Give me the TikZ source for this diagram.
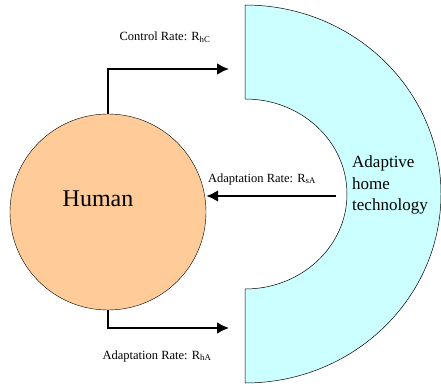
\documentclass[tikz,border=0pt]{standalone}
\usepackage{fontspec}
\setmainfont{Liberation Serif}
\usetikzlibrary{positioning,arrows.meta}
\definecolor{peach}{RGB}{255,204,153}
\definecolor{paleblue}{RGB}{204,255,255}
\tikzset{
	rate/.style={font=\fontsize{12.5}{14}\selectfont, inner sep=0pt},
	flow/.style={-{Latex[length=12pt,width=12pt]}, line width=2.4pt},
}
\begin{document}
\begin{tikzpicture}[x=1pt,y=-1pt]
		\useasboundingbox (0,0) rectangle (441,387);
		% adaptive home technology (half ring)
		\draw[fill=paleblue, line width=0.5pt] (245,5) arc[start angle=-90, end angle=90, x radius=196, y radius=189]
			-- (245,289) arc[start angle=90, end angle=-90, x radius=102, y radius=95] -- cycle;
		\node[align=left, anchor=west, font=\fontsize{17}{21.5}\selectfont, inner sep=0pt] (tech) at (352,185) {Adaptive\\home\\technology};
		% human
		\node[circle, draw, fill=peach, minimum size=196pt, inner sep=0pt] (human) at (108,212) {};
		\node[font=\fontsize{24}{26}\selectfont, inner sep=0pt] (humanlabel) at (98,199) {Human};
		\coordinate (hCend) at (229,69);
		\coordinate (hAend) at (229,328);
		\coordinate (sAstart) at (336,196);
		\draw[flow] (human.north) |- (hCend); % control
		\draw[flow] (human.south) |- (hAend); % adaptation of human
		\draw[flow] (sAstart) -- (sAstart -| human.east);
		\node[rate] (hClabel) at (165,37) {Control Rate: R\textsubscript{hC}};
		\node[rate] (sAlabel) at (262,179) {Adaptation Rate: R\textsubscript{sA}};
		\node[rate] (hAlabel) at (157,356) {Adaptation Rate: R\textsubscript{hA}};
	\end{tikzpicture}
\end{document}
